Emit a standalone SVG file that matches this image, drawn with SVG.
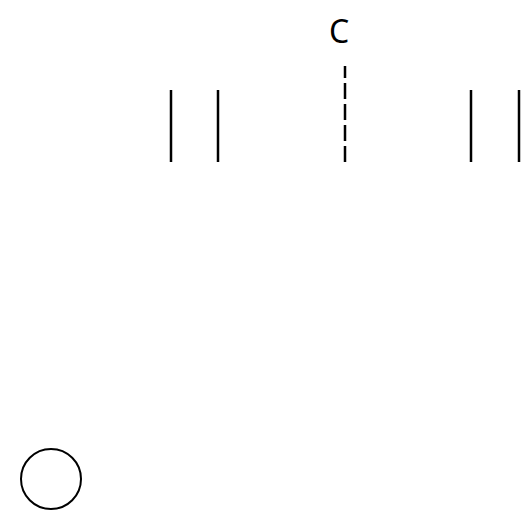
<svg xmlns="http://www.w3.org/2000/svg" width="526" height="525" viewBox="0 0 526 525">
<style>
.ln{stroke:#000;stroke-width:2.5;fill:none}
.dash{stroke-dasharray:16 5}
.lbl{font-family:"Noto Sans","DejaVu Sans",sans-serif;font-size:32px;fill:#000;text-anchor:middle}
</style>
<rect width="526" height="525" fill="#fff"/>
<g id="connectors">
<line class="ln" x1="171" y1="90" x2="171" y2="162"/>
<line class="ln" x1="218" y1="90" x2="218" y2="162"/>
<line class="ln dash" x1="345" y1="162" x2="345" y2="66"/>
<line class="ln" x1="471" y1="90" x2="471" y2="162"/>
<line class="ln" x1="519" y1="90" x2="519" y2="162"/>
</g>
<g id="label-c"><text class="lbl" x="339" y="43">C</text></g>
<g id="circle-node"><circle cx="51" cy="479" r="30" fill="none" stroke="#000" stroke-width="2"/></g>
</svg>
